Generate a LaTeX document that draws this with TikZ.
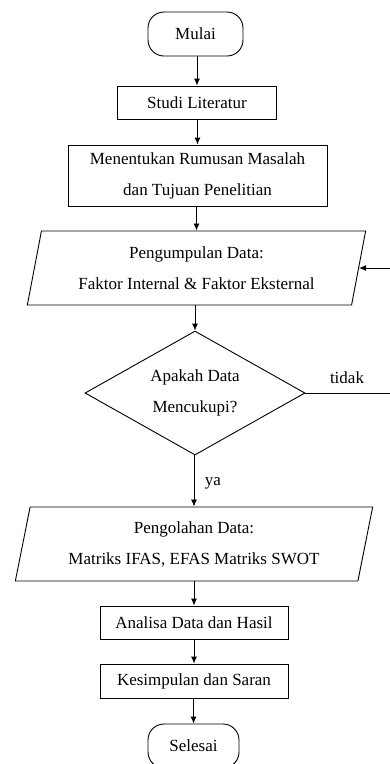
\documentclass[tikz,border=0pt]{standalone}
\usepackage{fontspec}
\setmainfont{Liberation Serif}
\usetikzlibrary{shapes.geometric,arrows.meta}
\begin{document}
\begin{tikzpicture}[x=1pt,y=-1pt,
  base/.style={draw, line width=0.9pt, font=\fontsize{17}{31}\selectfont, align=center, inner sep=0pt},
  term/.style={base, rounded corners=16pt, minimum width=95pt, minimum height=44pt},
  proc/.style={base},
  io/.style={base, trapezium, trapezium left angle=76, trapezium right angle=104, trapezium stretches=true, minimum height=74pt},
  dec/.style={base, diamond, minimum width=220pt, minimum height=124pt, aspect=1.77},
  arr/.style={-{Latex[length=7pt,width=6pt]}, line width=0.9pt},
  plain/.style={line width=0.9pt},
  lbl/.style={font=\fontsize{17}{20}\selectfont, inner sep=0pt}]
\useasboundingbox (0,0) rectangle (390,764);
\node[term] (mulai) at (195.5,34) {Mulai};
\node[proc, minimum width=159pt, minimum height=33pt] (studi) at (197,102.5) {Studi Literatur};
\node[proc, minimum width=259pt, minimum height=61pt] (rumusan) at (197.5,175.5) {Menentukan Rumusan Masalah\\dan Tujuan Penelitian};
\node[io, minimum width=339pt] (kumpul) at (196.5,268) {Pengumpulan Data:\\Faktor Internal \& Faktor Eksternal};
\node[dec] (cek) at (195,393) {Apakah Data\\Mencukupi?};
\node[io, minimum width=358pt] (olah) at (194,544) {Pengolahan Data:\\Matriks IFAS, EFAS Matriks SWOT};
\node[proc, minimum width=188pt, minimum height=33pt] (analisa) at (194,622.5) {Analisa Data dan Hasil};
\node[proc, minimum width=188pt, minimum height=34pt] (simpul) at (194,681) {Kesimpulan dan Saran};
\node[term, minimum width=91pt] (selesai) at (193.5,746) {Selesai};
\node[lbl] (tidak) at (347,378) {tidak};
\node[lbl] (ya) at (213,483) {ya};
\coordinate (fbin) at (390,268);
\coordinate (tout) at (390,393);
\draw[arr] (mulai.south -| studi.north) -- (studi.north);
\draw[arr] (studi.south -| rumusan.north) -- (rumusan.north);
\draw[arr] (rumusan.south -| kumpul.north) -- (kumpul.north);
\draw[arr] (kumpul.south -| cek.north) -- (cek.north);
\draw[arr] (cek.south -| olah.north) -- (olah.north);
\draw[arr] (olah.south -| analisa.north) -- (analisa.north);
\draw[arr] (analisa.south -| simpul.north) -- (simpul.north);
\draw[arr] (simpul.south -| selesai.north) -- (selesai.north);
\draw[plain] (cek.east) -- (tout);
\draw[arr] (fbin) -- (fbin -| kumpul.east);
\end{tikzpicture}
\end{document}
